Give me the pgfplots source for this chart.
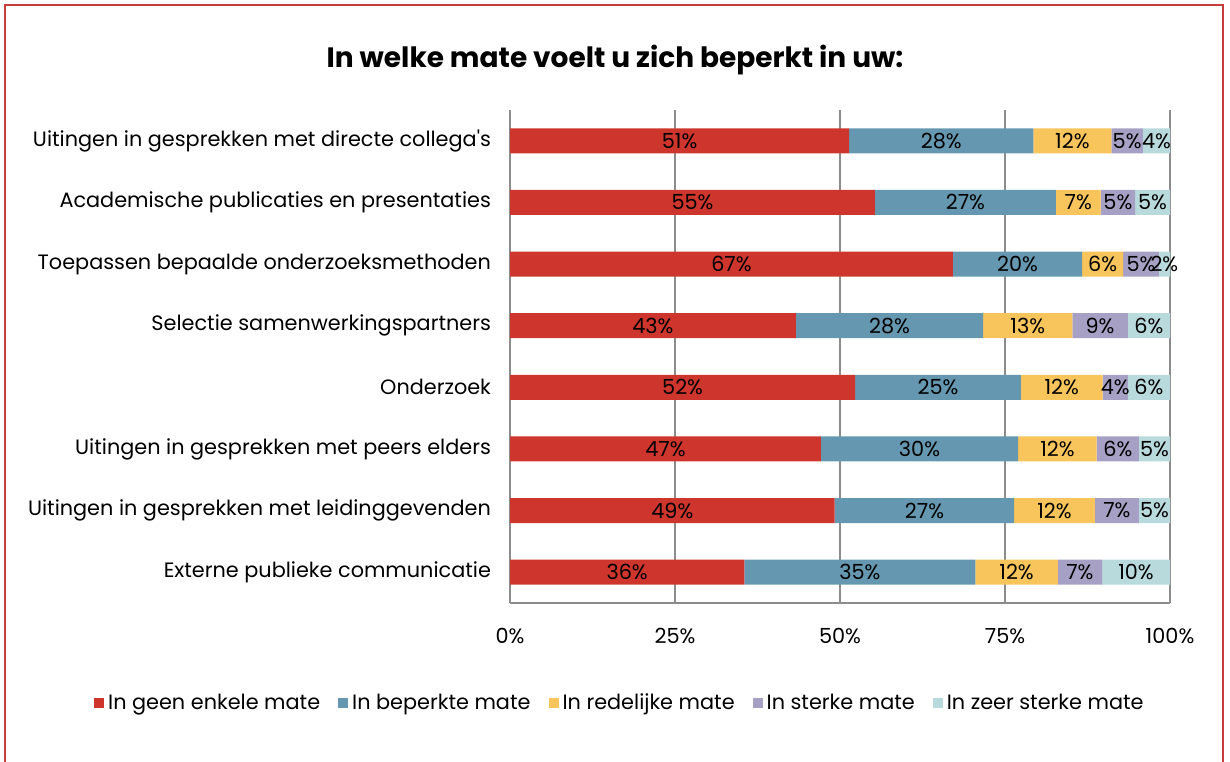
\documentclass[border=0pt]{standalone}
\usepackage{fontspec}
\setmainfont{Poppins}
\usepackage{pgfplots}
\pgfplotsset{compat=1.18}

\definecolor{cRed}{RGB}{206,54,45}
\definecolor{cBlue}{RGB}{101,152,176}
\definecolor{cYellow}{RGB}{248,196,92}
\definecolor{cPurple}{RGB}{166,160,196}
\definecolor{cCyan}{RGB}{185,218,220}
\definecolor{frameRed}{RGB}{200,60,60}
\definecolor{gridGray}{RGB}{140,140,140}

\begin{document}
\begin{tikzpicture}
\useasboundingbox (0,0) rectangle (615pt,380.5pt);
\draw[frameRed, line width=1pt] (2.5pt,-5pt) rectangle (611.5pt,378pt);
\node[font=\bfseries\fontsize{14}{16}\selectfont] at (307.5pt,350.5pt) {In welke mate voelt u zich beperkt in uw:};

\begin{axis}[
    at={(255pt,79pt)}, anchor=south west,
    scale only axis,
    width=330pt, height=246.5pt,
    xbar stacked,
    bar width=12.5pt,
    xmin=0, xmax=100,
    ymin=0.5, ymax=8.5,
    y dir=reverse,
    ytick={1,...,8},
    yticklabels={Uitingen in gesprekken met directe collega\textquotesingle s,
                 Academische publicaties en presentaties,
                 Toepassen bepaalde onderzoeksmethoden,
                 Selectie samenwerkingspartners,
                 Onderzoek,
                 Uitingen in gesprekken met peers elders,
                 Uitingen in gesprekken met leidinggevenden,
                 Externe publieke communicatie},
    xtick={0,25,50,75,100},
    xticklabels={0\%,25\%,50\%,75\%,100\%},
    xmajorgrids=true,
    grid style={gridGray, line width=0.75pt},
    axis x line*=bottom,
    axis y line*=left,
    axis line style={gridGray, line width=0.75pt, -},
    major tick length=0pt,
    tick label style={font=\fontsize{10.4}{12}\selectfont},
    xticklabel style={yshift=-9pt},
    yticklabel style={xshift=-6pt},
    /pgf/number format/assume math mode=true,
    legend style={at={(0.168,-0.203)}, anchor=center, draw=none,
        font=\fontsize{10.4}{12}\selectfont, legend columns=5,
        /tikz/every odd column/.append style={column sep=0pt},
        /tikz/every even column/.append style={column sep=7pt}},
    legend image code/.code={\fill[#1] (0pt,-2.6pt) rectangle (5pt,2.6pt);},
]
\addplot[fill=cRed, draw=none] coordinates {
    (51.4,1) (55.3,2) (67.1,3) (43.3,4) (52.3,5) (47.1,6) (49.2,7) (35.5,8)};
\addplot[fill=cBlue, draw=none] coordinates {
    (27.9,1) (27.4,2) (19.6,3) (28.4,4) (25.1,5) (29.9,6) (27.2,7) (35.0,8)};
\addplot[fill=cYellow, draw=none] coordinates {
    (11.8,1) (6.8,2) (6.2,3) (13.5,4) (12.4,5) (11.9,6) (12.2,7) (12.5,8)};
\addplot[fill=cPurple, draw=none] coordinates {
    (4.8,1) (5.2,2) (5.4,3) (8.4,4) (3.8,5) (6.4,6) (6.7,7) (6.7,8)};
\addplot[fill=cCyan, draw=none] coordinates {
    (4.1,1) (5.3,2) (1.7,3) (6.4,4) (6.4,5) (4.7,6) (4.7,7) (10.3,8)};
\legend{In geen enkele mate, In beperkte mate, In redelijke mate, In sterke mate, In zeer sterke mate}
\end{axis}

% overlay axis for the segment labels
\begin{axis}[
    at={(255pt,79pt)}, anchor=south west,
    scale only axis,
    width=330pt, height=246.5pt,
    xmin=0, xmax=100,
    ymin=0.5, ymax=8.5,
    y dir=reverse,
    axis lines=none,
    clip=false,
]
\addplot[only marks, mark=none, point meta=explicit symbolic,
    nodes near coords, nodes near coords align=center,
    every node near coord/.append style={font=\fontsize{10.4}{12}\selectfont, inner sep=0pt, anchor=center}]
coordinates {
    (25.7,1)[51\%] (65.35,1)[28\%] (85.2,1)[12\%] (93.5,1)[5\%] (97.95,1)[4\%]
    (27.65,2)[55\%] (69.0,2)[27\%] (86.1,2)[7\%] (92.1,2)[5\%] (97.35,2)[5\%]
    (33.55,3)[67\%] (76.9,3)[20\%] (89.8,3)[6\%] (95.6,3)[5\%] (99.15,3)[2\%]
    (21.65,4)[43\%] (57.5,4)[28\%] (78.45,4)[13\%] (89.4,4)[9\%] (96.8,4)[6\%]
    (26.15,5)[52\%] (64.85,5)[25\%] (83.6,5)[12\%] (91.7,5)[4\%] (96.8,5)[6\%]
    (23.55,6)[47\%] (62.05,6)[30\%] (82.95,6)[12\%] (92.1,6)[6\%] (97.65,6)[5\%]
    (24.6,7)[49\%] (62.8,7)[27\%] (82.5,7)[12\%] (91.95,7)[7\%] (97.65,7)[5\%]
    (17.75,8)[36\%] (53.0,8)[35\%] (76.75,8)[12\%] (86.35,8)[7\%] (94.85,8)[10\%]
};
\end{axis}
\end{tikzpicture}
\end{document}
